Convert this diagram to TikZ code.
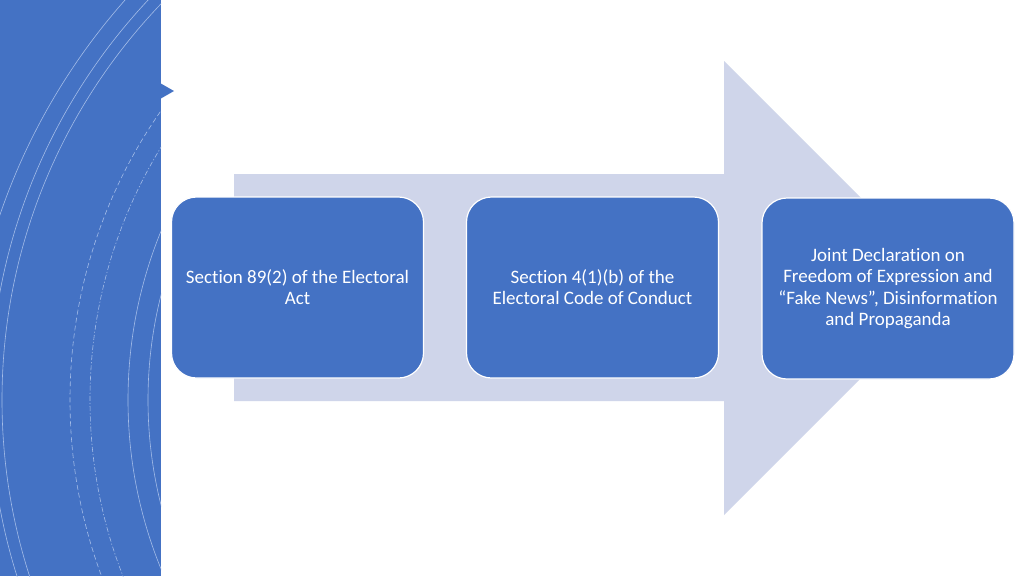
\documentclass[tikz,border=0pt]{standalone}
\usepackage{fontspec}
\setmainfont[Ligatures=NoCommon]{Carlito}
\definecolor{mainblue}{HTML}{4472C4}
\definecolor{arrowfill}{HTML}{CFD5EA}
\definecolor{arcline}{HTML}{A4BCE8}
\tikzset{
  boxnode/.style={rounded corners=25pt, draw=white, line width=1.2pt, fill=mainblue,
    minimum width=252pt, minimum height=181pt, align=center, text=white,
    font=\fontsize{19}{21.2}\selectfont, inner sep=0pt},
  arcline/.style={draw=arcline, line width=0.6pt}
}
\begin{document}
\begin{tikzpicture}[x=1pt,y=-1pt]
\useasboundingbox (0,0) rectangle (1024,576);
\fill[white] (0,0) rectangle (1024,576);
% left panel
\fill[mainblue] (0,0) rectangle (161,576);
\begin{scope}
\clip (0,0) rectangle (161,576);
\draw[arcline] (600,420) circle [radius=634pt];
\draw[arcline] (575,400) circle [radius=585pt];
\draw[arcline] (575,400) circle [radius=573pt];
\draw[arcline, dash pattern=on 5pt off 3pt] (575,400) circle [radius=505pt];
\draw[arcline, dash pattern=on 5pt off 2pt on 1.2pt off 2pt] (575,400) circle [radius=485pt];
\draw[arcline] (575,400) circle [radius=447pt];
\draw[arcline] (575,400) circle [radius=427pt];
\end{scope}
\fill[mainblue] (160,83) -- (174,91) -- (160,99) -- cycle;
% big arrow
\fill[arrowfill] (234,174) -- (724,174) -- (724,61) -- (951,288) -- (724,515) -- (724,401) -- (234,401) -- cycle;
% boxes
\node[boxnode] (b1) at (297.5,287.5) {Section 89(2) of the Electoral\\Act};
\node[boxnode] (b2) at (592.5,287.5) {Section 4(1)(b) of the\\Electoral Code of Conduct};
\node[boxnode] (b3) at (888,288.5) {Joint Declaration on\\Freedom of Expression and\\“Fake News”, Disinformation\\and Propaganda};
\end{tikzpicture}
\end{document}
